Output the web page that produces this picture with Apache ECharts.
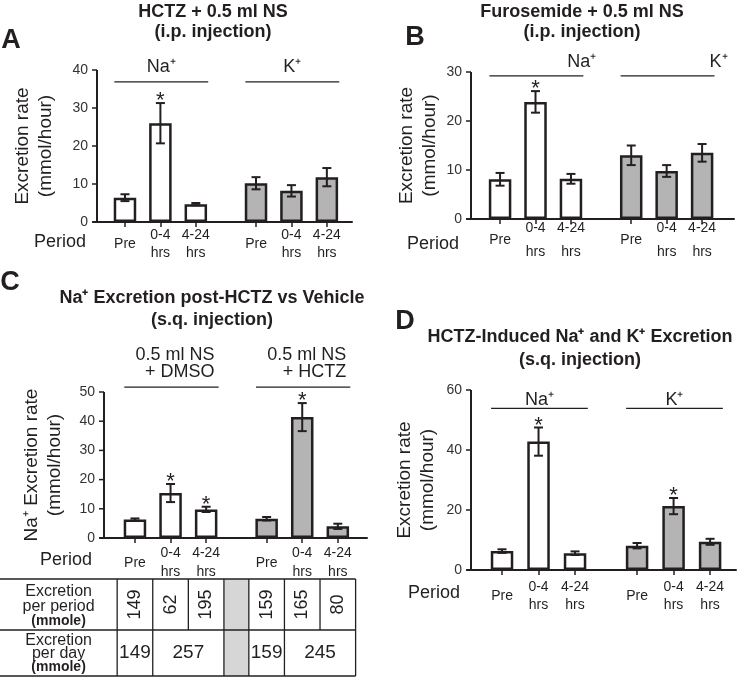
<!DOCTYPE html>
<html><head><meta charset="utf-8">
<script src="https://cdn.jsdelivr.net/npm/echarts@6/dist/echarts.min.js"></script>
<style>html,body{margin:0;padding:0;background:#fff}#c{width:743px;height:679px}</style>
</head><body><div id="c"></div>
<script>
// ---------------- DATA ----------------
const periodLabels = ["Pre", "0-4\nhrs", "4-24\nhrs"];
const groupNamesIon = ["Na\u207A", "K\u207A"];
const groupNamesVehicle = ["0.5 ml NS\n + DMSO", "0.5 ml NS\n+ HCTZ"];

// Panel A: HCTZ + 0.5 ml NS (i.p.)
const aNaMean = [6.4, 26.0, 4.7];
const aNaSem  = [0.9, 5.3, 0.3];
const aNaSig  = [0, 1, 0];
const aKMean  = [10.2, 8.2, 11.8];
const aKSem   = [1.6, 1.5, 2.4];
const aKSig   = [0, 0, 0];
const aGroupLineLevel = 36.9;

// Panel B: Furosemide + 0.5 ml NS (i.p.)
const bNaMean = [8.1, 23.9, 8.2];
const bNaSem  = [1.3, 2.2, 1.0];
const bNaSig  = [0, 1, 0];
const bKMean  = [13.0, 9.8, 13.5];
const bKSem   = [2.0, 1.2, 1.8];
const bKSig   = [0, 0, 0];
const bGroupLineLevel = 29.2;

// Panel C: Na+ excretion, DMSO vs HCTZ (s.q.)
const cDmsoMean = [6.3, 15.4, 9.8];
const cDmsoSem  = [0.4, 3.1, 0.9];
const cDmsoSig  = [0, 1, 1];
const cHctzMean = [6.6, 41.4, 4.0];
const cHctzSem  = [0.6, 4.8, 0.9];
const cHctzSig  = [0, 1, 0];
const cGroupLineLevel = 51.7;

// Panel C table (mmole)
const tablePerPeriodDmso = [149, 62, 195];
const tablePerPeriodHctz = [159, 165, 80];
const tablePerDayDmso = [149, 257];
const tablePerDayHctz = [159, 245];

// Panel D: HCTZ-induced Na+ and K+ (s.q.)
const dNaMean = [6.3, 42.8, 5.6];
const dNaSem  = [0.6, 4.7, 0.6];
const dNaSig  = [0, 1, 0];
const dKMean  = [8.1, 21.3, 9.4];
const dKSem   = [0.9, 2.7, 1.0];
const dKSig   = [0, 1, 0];
const dGroupLineLevel = 53.9;

// axis ticks
const aYTicks = {max: 40, interval: 10};
const bYTicks = {max: 30, interval: 10};
const cYTicks = {max: 50, interval: 10};
const dYTicks = {max: 60, interval: 20};

const titleA = "HCTZ + 0.5 ml NS\n(i.p. injection)";
const titleB = "Furosemide + 0.5 ml NS\n(i.p. injection)";
const titleC = "Na\u207A Excretion post-HCTZ vs Vehicle\n(s.q. injection)";
const titleD = "HCTZ-Induced Na\u207A and K\u207A Excretion\n(s.q. injection)";
const yNameRate = "Excretion rate\n(mmol/hour)";
const yNameNaRate = "Na\u207A Excretion rate\n(mmol/hour)";

// ---------------- STYLE / LAYOUT ----------------
const FONT = "'Liberation Sans', Arial, Helvetica, sans-serif";
const INK = '#231f20';
const WHITE = '#ffffff';
const GRAY = '#b4b4b4';
const GAP = 3.7;                       // spacing between the two groups (in bar slots)
const baseSlots = [0, 1, 2, GAP, GAP + 1, GAP + 2];
const INSET = 4;                       // x-axis line starts a few px left of the y spine

const panels = [
  { groups: [{mean: aNaMean, sem: aNaSem, sig: aNaSig}, {mean: aKMean, sem: aKSem, sig: aKSig}],
    y: aYTicks, level: aGroupLineLevel, names: groupNamesIon, yName: yNameRate, title: titleA,
    grid: {left: 97, top: 70, width: 255, height: 152}, lead: 0.79, span: 7.20,
    nameGap: 40, lblMargin: 22.5, lblLH: 18, gAlign: 'center', gDx: 0, gDy: -6, gLH: 18,
    fills: [WHITE, GRAY], letter: ['A', 11, 41], titlePos: [213, 2, 20], period: [86, 242] },
  { groups: [{mean: bNaMean, sem: bNaSem, sig: bNaSig}, {mean: bKMean, sem: bKSem, sig: bKSig}],
    y: bYTicks, level: bGroupLineLevel, names: groupNamesIon, yName: yNameRate, title: titleB,
    grid: {left: 471, top: 72, width: 263, height: 147}, lead: 0.82, span: 7.42,
    nameGap: 30, lblMargin: 21, lblLH: 24, gAlign: 'right', gDx: 13, gDy: -5, gLH: 18,
    fills: [WHITE, GRAY], letter: ['B', 415, 38], titlePos: [582, 2, 20], period: [459, 244] },
  { groups: [{mean: cDmsoMean, sem: cDmsoSem, sig: cDmsoSig}, {mean: cHctzMean, sem: cHctzSem, sig: cHctzSig}],
    y: cYTicks, level: cGroupLineLevel, names: groupNamesVehicle, yName: yNameNaRate, title: titleC,
    grid: {left: 104, top: 392, width: 263, height: 146}, lead: 0.87, span: 7.39,
    nameGap: 38, lblMargin: 25, lblLH: 19, gAlign: 'right', gDx: -4, gDy: -6.5, gLH: 17,
    fills: [WHITE, GRAY], letter: ['C', 10, 283], titlePos: [212, 287, 22], period: [92, 560] },
  { groups: [{mean: dNaMean, sem: dNaSem, sig: dNaSig}, {mean: dKMean, sem: dKSem, sig: dKSig}],
    y: dYTicks, level: dGroupLineLevel, names: groupNamesIon, yName: yNameRate, title: titleD,
    grid: {left: 471, top: 390, width: 265, height: 180}, lead: 0.85, span: 7.26,
    nameGap: 32, lblMargin: 26, lblLH: 18, gAlign: 'center', gDx: 0, gDy: 1, gLH: 18,
    fills: [WHITE, GRAY], letter: ['D', 405, 322], titlePos: [580, 326, 22.5], period: [460, 593] }
];
// bar slot positions on each panel's x value axis (value 0 = y spine)
panels.forEach(p => {
  p.slots = baseSlots.map(s => +(s + p.lead).toFixed(4));
  const ppu = p.grid.width / p.span;
  p.xMin = -INSET / ppu;
  p.gridOut = {left: p.grid.left - INSET, top: p.grid.top, width: p.grid.width + INSET, height: p.grid.height};
});

function textStyle(o) {
  const s = Object.assign({fontFamily: FONT, fill: INK}, o);
  if (s.align) s.textAlign = s.align;
  if (s.verticalAlign) s.textVerticalAlign = s.verticalAlign;
  return s;
}

function renderErr(params, api) {
  const x = api.value(0), m = api.value(1), e = api.value(2), s = api.value(3);
  const top = api.coord([x, m + e]), bot = api.coord([x, m - e]);
  const hw = 4.5;
  const st = {stroke: INK, lineWidth: 2};
  const ch = [
    {type: 'line', shape: {x1: top[0], y1: top[1], x2: bot[0], y2: bot[1]}, style: st},
    {type: 'line', shape: {x1: top[0] - hw, y1: top[1], x2: top[0] + hw, y2: top[1]}, style: st},
    {type: 'line', shape: {x1: bot[0] - hw, y1: bot[1], x2: bot[0] + hw, y2: bot[1]}, style: st}
  ];
  if (s) ch.push({type: 'text', x: top[0], y: top[1] - 2,
    style: textStyle({text: '*', fontSize: 22, align: 'center', verticalAlign: 'middle'})});
  return {type: 'group', children: ch};
}

function makeGroupRenderer(p) {
  return function (params, api) {
    const a = api.coord([api.value(0), api.value(2)]);
    const b = api.coord([api.value(1), api.value(2)]);
    const name = p.names[params.dataIndex];
    let tx;
    if (p.gAlign === 'center') tx = (a[0] + b[0]) / 2 + p.gDx;
    else tx = b[0] + p.gDx;
    return {type: 'group', children: [
      {type: 'line', shape: {x1: a[0], y1: a[1], x2: b[0], y2: b[1]}, style: {stroke: INK, lineWidth: 1.3}},
      {type: 'text', x: tx, y: a[1] + p.gDy,
        style: textStyle({text: name, fontSize: 18, lineHeight: p.gLH, align: p.gAlign, verticalAlign: 'bottom'})}
    ]};
  };
}

const grids = [], xAxes = [], yAxes = [], series = [];
panels.forEach((p, i) => {
  const slots = p.slots;
  grids.push(Object.assign({containLabel: false}, p.gridOut));
  xAxes.push({
    type: 'value', gridIndex: i, min: p.xMin, max: p.span, position: 'bottom',
    axisLine: {show: true, onZero: false, lineStyle: {color: INK, width: 2}},
    axisTick: {show: true, customValues: slots, length: 5, lineStyle: {color: INK, width: 1.5}},
    axisLabel: {show: true, customValues: slots,
      formatter: function (v) {
        for (let k = 0; k < slots.length; k++) if (Math.abs(slots[k] - v) < 1e-3) return periodLabels[k % 3];
        return '';
      },
      margin: p.lblMargin, verticalAlign: 'middle', lineHeight: p.lblLH, fontSize: 14, color: INK, fontFamily: FONT},
    splitLine: {show: false}
  });
  yAxes.push({
    type: 'value', gridIndex: i, min: 0, max: p.y.max, interval: p.y.interval, position: 'left',
    axisLine: {show: false, onZero: false},
    axisTick: {show: false},
    axisLabel: {show: true, fontSize: 14, color: '#333', fontFamily: FONT, margin: 9 - INSET},
    splitLine: {show: false},
    name: p.yName, nameLocation: 'middle', nameRotate: 90, nameGap: p.nameGap - INSET,
    nameTextStyle: {fontSize: 19, lineHeight: 23, color: INK, fontFamily: FONT}
  });
  const barData = [], errData = [], grpData = [];
  p.groups.forEach((g, gi) => {
    g.mean.forEach((m, k) => {
      const x = slots[gi * 3 + k];
      barData.push({value: [x, m], itemStyle: {color: p.fills[gi]}});
      errData.push([x, m, g.sem[k], g.sig[k]]);
    });
    grpData.push([slots[gi * 3] - 0.3, slots[gi * 3 + 2] + 0.35, p.level]);
  });
  series.push({
    type: 'bar', xAxisIndex: i, yAxisIndex: i, barWidth: 22.5, data: barData,
    itemStyle: {borderColor: INK, borderWidth: 2.5}, z: 2, animation: false, silent: true
  });
  series.push({
    type: 'custom', xAxisIndex: i, yAxisIndex: i, renderItem: renderErr, data: errData,
    dimensions: ['x', 'mean', 'sem', 'sig'], encode: {x: 0, y: 1}, z: 3, animation: false, silent: true
  });
  series.push({
    type: 'custom', xAxisIndex: i, yAxisIndex: i, renderItem: makeGroupRenderer(p), data: grpData,
    dimensions: ['x0', 'x1', 'level'], encode: {x: [0, 1], y: 2}, z: 3, animation: false, silent: true
  });
});

const chart = echarts.init(document.getElementById('c'), null, {renderer: 'canvas', width: 743, height: 679});
chart.setOption({
  animation: false,
  backgroundColor: '#ffffff',
  textStyle: {fontFamily: FONT},
  grid: grids, xAxis: xAxes, yAxis: yAxes, series: series
});

// ---------------- static text, y spines + table ----------------
const graphics = [];
panels.forEach((p, i) => {
  graphics.push({type: 'text', x: p.letter[1], y: p.letter[2],
    style: textStyle({text: p.letter[0], fontSize: 27, fontWeight: 'bold', align: 'center', verticalAlign: 'middle'})});
  graphics.push({type: 'text', x: p.titlePos[0], y: p.titlePos[1],
    style: textStyle({text: p.title, fontSize: 18, fontWeight: 'bold', lineHeight: p.titlePos[2], align: 'center', verticalAlign: 'top'})});
  graphics.push({type: 'text', x: p.period[0], y: p.period[1],
    style: textStyle({text: 'Period', fontSize: 18, align: 'right', verticalAlign: 'middle'})});
  // y spine and ticks at x = 0, positioned through the panel's own scales
  const finder = {xAxisIndex: i, yAxisIndex: i};
  const lo = chart.convertToPixel(finder, [0, 0]);
  const hi = chart.convertToPixel(finder, [0, p.y.max]);
  graphics.push({type: 'line', z: 100, shape: {x1: lo[0], y1: lo[1] + 1, x2: hi[0], y2: hi[1]}, style: {stroke: INK, lineWidth: 2}});
  for (let v = 0; v <= p.y.max + 1e-9; v += p.y.interval) {
    const c = chart.convertToPixel(finder, [0, v]);
    graphics.push({type: 'line', z: 100, shape: {x1: c[0] - 5, y1: c[1], x2: c[0], y2: c[1]}, style: {stroke: INK, lineWidth: 1.5}});
  }
});

// table under panel C, columns aligned to panel C bar slots
const cs = panels[2].slots;
const edgesVal = [cs[0] - 0.5, cs[0] + 0.5, cs[1] + 0.5, cs[2] + 0.5, cs[3] - 0.5, cs[3] + 0.5, cs[4] + 0.5, cs[5] + 0.5];
const ex = edgesVal.map(v => chart.convertToPixel({xAxisIndex: 2}, v));
const rTop = 579, rMid = 630, rBot = 676;
const ls = {stroke: INK, lineWidth: 1.3};
graphics.push({type: 'rect', shape: {x: ex[3], y: rTop, width: ex[4] - ex[3], height: rBot - rTop}, style: {fill: '#d6d6d6'}});
[rTop, rMid, rBot].forEach(y => graphics.push({type: 'line', shape: {x1: 0, y1: y, x2: ex[7], y2: y}, style: ls}));
[0, 1, 3, 4, 5, 7].forEach(k => graphics.push({type: 'line', shape: {x1: ex[k], y1: rTop, x2: ex[k], y2: rBot}, style: ls}));
[2, 6].forEach(k => graphics.push({type: 'line', shape: {x1: ex[k], y1: rTop, x2: ex[k], y2: rMid}, style: ls}));
const headRich = {b: {fontSize: 14, fontWeight: 'bold', fontFamily: FONT, fill: INK, lineHeight: 15}};
graphics.push({type: 'text', x: ex[0] / 2, y: (rTop + rMid) / 2 + 2,
  style: textStyle({text: 'Excretion\nper period\n{b|(mmole)}', rich: headRich, fontSize: 16, lineHeight: 15, align: 'center', verticalAlign: 'middle'})});
graphics.push({type: 'text', x: ex[0] / 2, y: (rMid + rBot) / 2 + 1,
  style: textStyle({text: 'Excretion\nper day\n{b|(mmole)}', rich: {b: Object.assign({}, headRich.b, {lineHeight: 13.5})}, fontSize: 16, lineHeight: 13.5, align: 'center', verticalAlign: 'middle'})});
const perPeriod = tablePerPeriodDmso.map((v, k) => [k, v]).concat(tablePerPeriodHctz.map((v, k) => [k + 4, v]));
perPeriod.forEach(([k, v]) => graphics.push({type: 'text', x: (ex[k] + ex[k + 1]) / 2, y: (rTop + rMid) / 2, rotation: Math.PI / 2,
  style: textStyle({text: String(v), fontSize: 18, align: 'center', verticalAlign: 'middle'})}));
const perDayCells = [[0, 1, tablePerDayDmso[0]], [1, 3, tablePerDayDmso[1]], [4, 5, tablePerDayHctz[0]], [5, 7, tablePerDayHctz[1]]];
perDayCells.forEach(([a, b, v]) => graphics.push({type: 'text', x: (ex[a] + ex[b]) / 2, y: (rMid + rBot) / 2,
  style: textStyle({text: String(v), fontSize: 19, align: 'center', verticalAlign: 'middle'})}));

chart.setOption({graphic: {elements: graphics}});
</script></body></html>
